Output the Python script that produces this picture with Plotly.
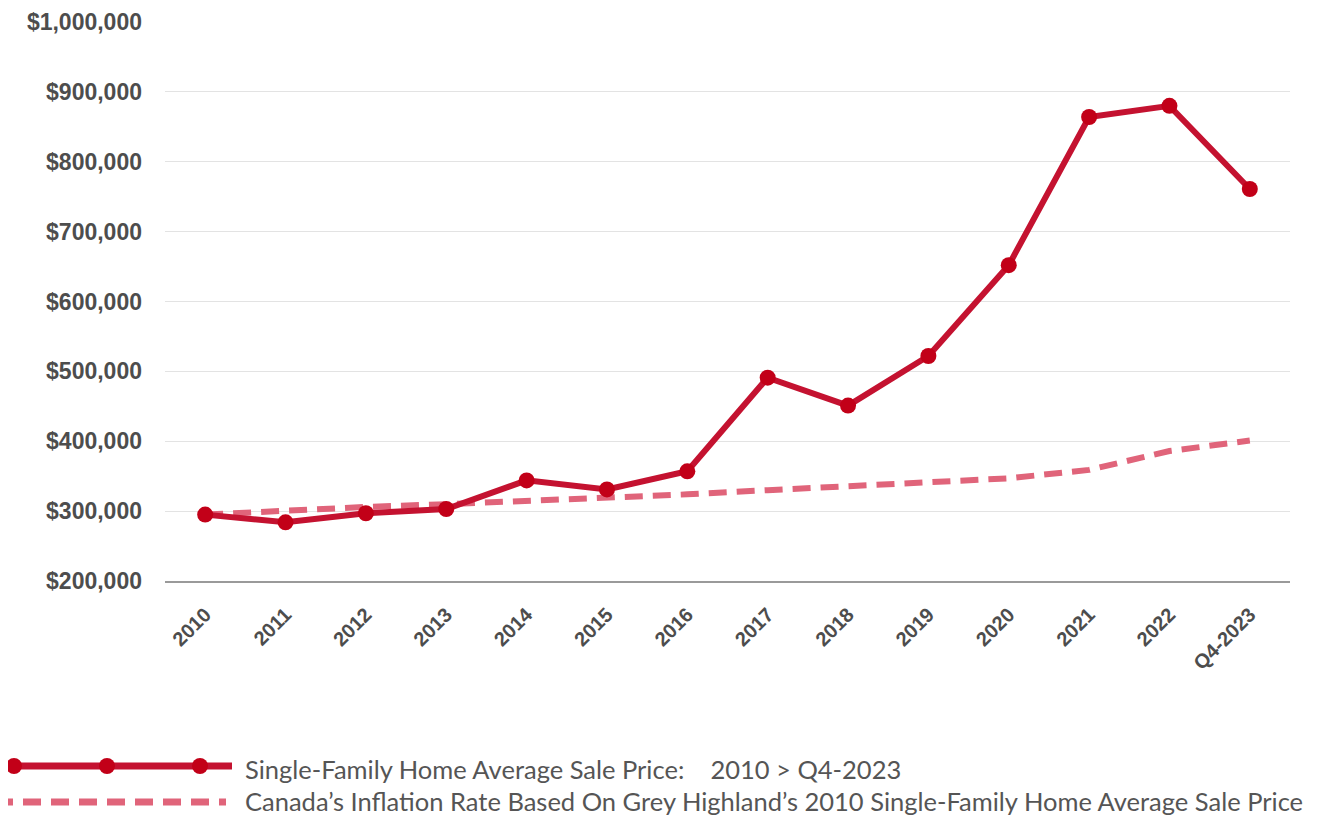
import plotly.graph_objects as go

years = ["2010", "2011", "2012", "2013", "2014", "2015", "2016",
         "2017", "2018", "2019", "2020", "2021", "2022", "Q4-2023"]
avg_price = [295000, 284000, 297000, 303000, 344000, 331000, 357000,
             491000, 451000, 522000, 652000, 864000, 880000, 761000]
inflation_price = [295000, 301000, 306000, 310000, 314000, 319000, 324000,
                   330000, 336000, 343000, 347000, 359000, 386000, 401000]

y_ticks = [200000, 300000, 400000, 500000, 600000, 700000, 800000, 900000, 1000000]
y_labels = ["${:,}".format(v) for v in y_ticks]

legend_main = "Single-Family Home Average Sale Price:\u00a0\u00a0\u00a0\u00a02010 > Q4-2023"
legend_infl = "Canada\u2019s Inflation Rate Based On Grey Highland\u2019s 2010 Single-Family Home Average Sale Price"

RED = "#C41230"
RED_MARK = "#C20018"
PINK = "#E0647A"

# page puts the figure 8px in from the top-left corner
OFF = 8
W, H = 1333 - OFF, 818 - OFF
L, R, T, B = 165 - OFF, 43, 22 - OFF, 237

fig = go.Figure()

# inflation-based line (dashed)
fig.add_trace(go.Scatter(
    x=years, y=inflation_price, mode="lines", name="inflation",
    line=dict(color=PINK, width=6, dash="18px,10px"),
    showlegend=False, hoverinfo="skip"
))

# average sale price
fig.add_trace(go.Scatter(
    x=years, y=avg_price, mode="lines+markers", name="avg",
    line=dict(color=RED, width=6),
    marker=dict(color=RED_MARK, size=16),
    showlegend=False
))


def px2paper(xp, yp):
    # screen pixels -> paper coords
    xp, yp = xp - OFF, yp - OFF
    return (xp - L) / (W - L - R), (H - B - yp) / (H - T - B)


# custom legend drawn under the chart
shapes = []
x0, y0 = px2paper(-10, 766)
x1, _ = px2paper(232, 766)
shapes.append(dict(type="line", xref="paper", yref="paper", x0=x0, x1=x1, y0=y0, y1=y0,
                   line=dict(color=RED, width=7)))
for mx in [14, 107, 200]:
    cx, cy = px2paper(mx, 766)
    shapes.append(dict(type="circle", xref="paper", yref="paper", xsizemode="pixel",
                       ysizemode="pixel", xanchor=cx, yanchor=cy,
                       x0=-8, x1=8, y0=-8, y1=8,
                       fillcolor=RED_MARK, line=dict(width=0)))
x0, y0 = px2paper(-5, 802)
x1, _ = px2paper(226, 802)
shapes.append(dict(type="line", xref="paper", yref="paper", x0=x0, x1=x1, y0=y0, y1=y0,
                   line=dict(color=PINK, width=7, dash="18px,10px")))

annotations = []
for txt, yp in [(legend_main, 769), (legend_infl, 801)]:
    ax, ay = px2paper(244, yp)
    annotations.append(dict(text=txt, xref="paper", yref="paper", x=ax, y=ay,
                            xanchor="left", yanchor="middle", showarrow=False,
                            borderpad=0,
                            font=dict(family="Lato", size=25.5, color="#555555")))

fig.update_layout(
    width=W, height=H,
    margin=dict(l=L, r=R, t=T, b=B),
    plot_bgcolor="white", paper_bgcolor="white",
    shapes=shapes, annotations=annotations,
    hovermode="x unified"
)

fig.update_xaxes(
    type="category", range=[-0.5, 13.5], automargin=False,
    tickangle=-45, showgrid=False,
    showline=True, linecolor="#9a9a9a", linewidth=2,
    ticks="", ticklabelstandoff=12,
    tickfont=dict(family="Liberation Sans", size=20, color="#4d4d4d", weight="bold")
)
fig.update_yaxes(
    range=[200000, 1000000], tickvals=y_ticks, ticktext=y_labels, automargin=False,
    showgrid=True, gridcolor="#e3e3e3", gridwidth=1,
    zeroline=False, showline=False, ticks="", ticklabelstandoff=22,
    tickfont=dict(family="Liberation Sans", size=23, color="#4d4d4d", weight="bold")
)

fig.write_html("out.html")
